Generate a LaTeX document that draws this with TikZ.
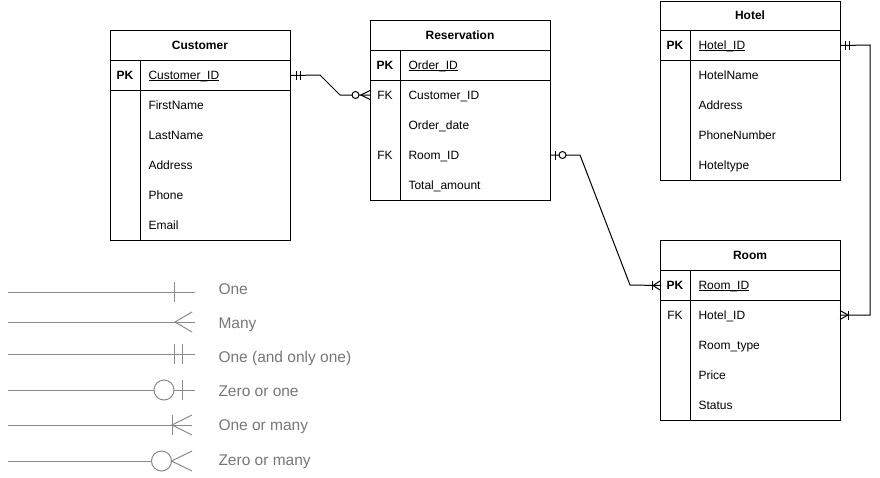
\documentclass[tikz,border=0pt]{standalone}
\usepackage{fontspec}
\setmainfont{Liberation Sans}
\definecolor{lgline}{HTML}{8A8A8A}
\definecolor{lgtext}{HTML}{777777}
\newcommand\myul[1]{\setbox0\hbox{#1}\rlap{\rule[-1.6pt]{\wd0}{0.9pt}}\box0}
\begin{document}
\begin{tikzpicture}[x=1pt,y=-1pt,line width=1pt,
  tbl/.style={draw,minimum width=180pt,minimum height=30pt,inner sep=0pt,anchor=north west},
  ttl/.style={anchor=base,inner sep=0pt,font=\bfseries\fontsize{12}{14}\selectfont},
  keyb/.style={anchor=base,inner sep=0pt,font=\bfseries\fontsize{12}{14}\selectfont},
  keyn/.style={anchor=base,inner sep=0pt,font=\fontsize{12}{14}\selectfont},
  fld/.style={anchor=base west,inner sep=0pt,font=\fontsize{12}{14}\selectfont},
  conn/.style={line width=1pt,line join=miter},
  lg/.style={draw=lgline,line width=1pt},
  lgtxt/.style={anchor=base west,inner sep=0pt,text=lgtext,font=\fontsize{15.5}{18}\selectfont}
]
\useasboundingbox (0,0) rectangle (880,477);

% ---------- Customer ----------
\node[tbl] (cust-t) at (110,30) {};
\node[ttl] (cust-tt) at (200,49.3) {Customer};
\node[tbl] (cust-pk) at (110,60) {};
\node[tbl,minimum height=150pt] (cust-b) at (110,90) {};
\draw (140,60) -- (140,240);
\node[keyb] (cust-k1) at (125,79.3) {PK};
\node[fld] (cust-f0) at (148,79.3) {\myul{Customer\_ID}};
\node[fld] (cust-f1) at (148,109.3) {FirstName};
\node[fld] (cust-f2) at (148,139.3) {LastName};
\node[fld] (cust-f3) at (148,169.3) {Address};
\node[fld] (cust-f4) at (148,199.3) {Phone};
\node[fld] (cust-f5) at (148,229.3) {Email};

% ---------- Reservation ----------
\node[tbl] (res-t) at (370,20) {};
\node[ttl] (res-tt) at (460,39.3) {Reservation};
\node[tbl] (res-pk) at (370,50) {};
\node[tbl,minimum height=120pt] (res-b) at (370,80) {};
\draw (400,50) -- (400,200);
\node[keyb] (res-k1) at (385,69.3) {PK};
\node[keyn] (res-k2) at (385,99.3) {FK};
\node[keyn] (res-k3) at (385,159.3) {FK};
\node[fld] (res-f0) at (408,69.3) {\myul{Order\_ID}};
\node[fld] (res-f1) at (408,99.3) {Customer\_ID};
\node[fld] (res-f2) at (408,129.3) {Order\_date};
\node[fld] (res-f3) at (408,159.3) {Room\_ID};
\node[fld] (res-f4) at (408,189.3) {Total\_amount};
\coordinate (res-cid) at (370,95);
\coordinate (res-rid) at (550,155);

% ---------- Hotel ----------
\node[tbl,minimum height=29pt] (hot-t) at (660,1) {};
\node[ttl] (hot-tt) at (750,19.3) {Hotel};
\node[tbl] (hot-pk) at (660,30) {};
\node[tbl,minimum height=120pt] (hot-b) at (660,60) {};
\draw (690,30) -- (690,180);
\node[keyb] (hot-k1) at (675,49.3) {PK};
\node[fld] (hot-f0) at (698,49.3) {\myul{Hotel\_ID}};
\node[fld] (hot-f1) at (698,79.3) {HotelName};
\node[fld] (hot-f2) at (698,109.3) {Address};
\node[fld] (hot-f3) at (698,139.3) {PhoneNumber};
\node[fld] (hot-f4) at (698,169.3) {Hoteltype};

% ---------- Room ----------
\node[tbl] (room-t) at (660,240) {};
\node[ttl] (room-tt) at (750,259.3) {Room};
\node[tbl] (room-pk) at (660,270) {};
\node[tbl,minimum height=120pt] (room-b) at (660,300) {};
\draw (690,270) -- (690,420);
\node[keyb] (room-k1) at (675,289.3) {PK};
\node[keyn] (room-k2) at (675,319.3) {FK};
\node[fld] (room-f0) at (698,289.3) {\myul{Room\_ID}};
\node[fld] (room-f1) at (698,319.3) {Hotel\_ID};
\node[fld] (room-f2) at (698,349.3) {Room\_type};
\node[fld] (room-f3) at (698,379.3) {Price};
\node[fld] (room-f4) at (698,409.3) {Status};
\coordinate (room-hid) at (840,315);

% ---------- Connectors ----------
% Customer -> Reservation (one and only one  to  zero or many)
\draw[conn] (cust-pk.east) -- (320,75) -- (340,95) -- (res-cid);
\draw[conn] (cust-pk.east) ++(5,-4.5) -- ++(0,9);
\draw[conn] (cust-pk.east) ++(9,-4.5) -- ++(0,9);
\draw[conn,fill=white] (355.5,95) circle (3.5);
\draw[conn] (res-cid) ++(0,-4.5) -- ++(-9,4.5) -- ++(9,4.5);

% Reservation -> Room (zero or one  to  one or many)
\draw[conn] (res-rid) -- (580,155) -- (630,285) -- (room-pk.west);
\draw[conn] (res-rid) ++(5,-4.5) -- ++(0,9);
\draw[conn,fill=white] (562.5,155) circle (3.5);
\draw[conn] (room-pk.west) ++(-8,-4.5) -- ++(0,9);
\draw[conn] (room-pk.west) ++(0,-4.5) -- ++(-7,4.5) -- ++(7,4.5);

% Hotel -> Room (one and only one  to  one or many)
\draw[conn] (hot-pk.east) -- (870,45) -- (870,315) -- (room-hid);
\draw[conn] (hot-pk.east) ++(4,-4.5) -- ++(0,9);
\draw[conn] (hot-pk.east) ++(8,-4.5) -- ++(0,9);
\draw[conn] (room-hid) ++(8,-4.5) -- ++(0,9);
\draw[conn] (room-hid) ++(0,-4.5) -- ++(8,4.5) -- ++(-8,4.5);

% ---------- Legend ----------
\coordinate (l1a) at (8,292);   \coordinate (l1b) at (195,292);
\coordinate (l2a) at (8,322);   \coordinate (l2b) at (195,322);
\coordinate (l3a) at (8,354);   \coordinate (l3b) at (195,354);
\coordinate (l4a) at (8,390);   \coordinate (l4b) at (195,390);
\coordinate (l5a) at (8,425);   \coordinate (l5b) at (192,425);
\coordinate (l6a) at (8,461);   \coordinate (l6b) at (192,461);

% One
\draw[lg] (l1a) -- (l1b);
\draw[lg] (174,282) -- (174,302);
% Many
\draw[lg] (l2a) -- (l2b);
\draw[lg] (192,312) -- (175,322) -- (192,332);
% One (and only one)
\draw[lg] (l3a) -- (l3b);
\draw[lg] (174,344) -- (174,364);
\draw[lg] (182,344) -- (182,364);
% Zero or one
\draw[lg] (l4a) -- (154,390);
\draw[lg] (164,390) circle (10);
\draw[lg] (174,390) -- (l4b);
\draw[lg] (182,380) -- (182,400);
% One or many
\draw[lg] (l5a) -- (l5b);
\draw[lg] (172,415) -- (172,435);
\draw[lg] (192,415) -- (172,425) -- (192,435);
% Zero or many
\draw[lg] (l6a) -- (151.5,461);
\draw[lg] (161.5,461) circle (10);
\draw[lg] (192,451) -- (171.5,461) -- (192,471);

\node[lgtxt] (t1) at (218,294.5) {One};
\node[lgtxt] (t2) at (218,328.5) {Many};
\node[lgtxt] (t3) at (218,362.5) {One (and only one)};
\node[lgtxt] (t4) at (218,396.5) {Zero or one};
\node[lgtxt] (t5) at (218,430.5) {One or many};
\node[lgtxt] (t6) at (218,465.5) {Zero or many};
\end{tikzpicture}
\end{document}
